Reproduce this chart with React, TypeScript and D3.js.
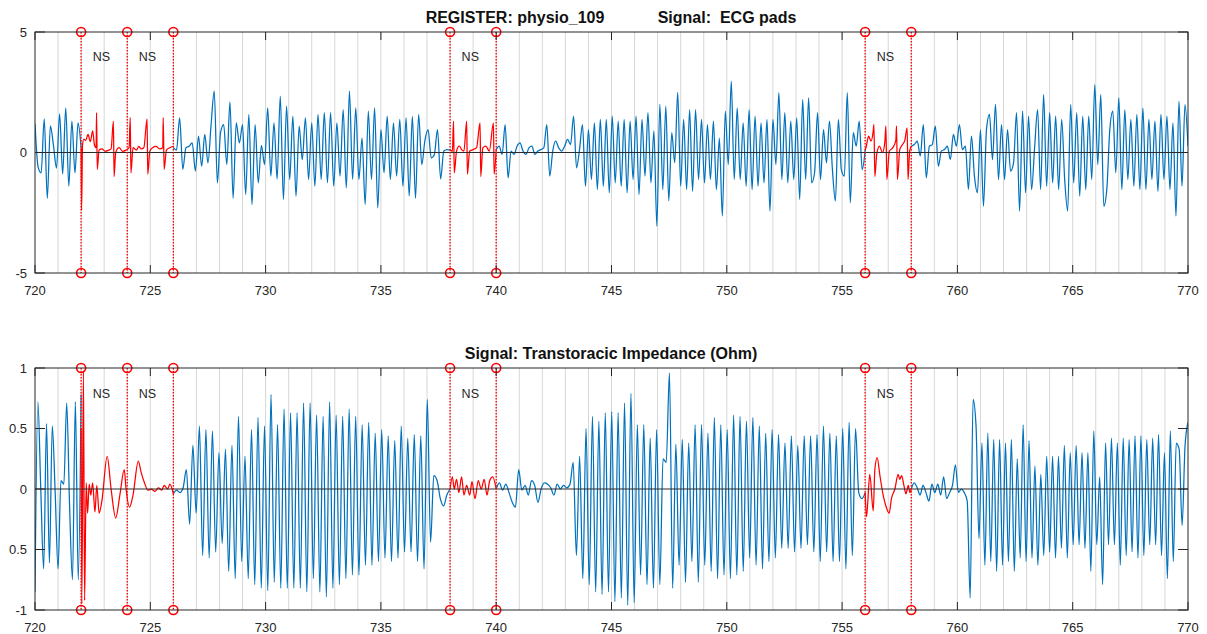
import * as d3 from 'd3'

// x axis
const xTicks = [720, 725, 730, 735, 740, 745, 750, 755, 760, 765, 770]
const nsMarks = [722, 724, 726, 738, 740, 756, 758]
const nsLabelStarts = [722, 724, 738, 756]

// y axes
const ecgTicks = [5, 0, -5]
const ecgTickLabels = ['5', '0', '-5']
const impTicks = [1, 0.5, 0, -0.5, -1]
const impTickLabels = ['1', '0.5', '0', '0.5', '-1']

// ECG pads (blue spans, evenly sampled between span bounds)
const ecgSpanA = [720, 722]
const ecgBlueA = [1.2, -0.6, -0.85, 1.4, -1.9, 1.1, 0.3, -0.65, 1.6, -0.9, 1.85, -1.4, 1.3, -0.85, 1.23, 0.2]
const ecgSpanB = [726, 738]
const ecgBlueB = [
  0.2, 0.1, 1.44, -0.7, 0.2, 0.26, 0.4, -0.77, 0.68, -0.57, 0.75, -0.43, 1.16, 2.55, -1.26, 0.82, 1.16, -0.5,
  2.1, -1.9, 1.23, 0.4, 1.16, -1.74, 1.58, -2.16, 1.16, -1.26, 0.3, -0.5, 1.85, -0.98, 1.23, -1.1, 2.34, -1.95,
  1.92, -1.12, 1.51, -1.81, 1.09, -0.3, 1.44, -1.12, 1.23, -1.4, 1.58, -1.12, 1.65, -1.26, 1.65, -1.4, 1.23,
  -0.98, 1.78, -1.47, 2.55, -1.12, 1.85, -1.12, 0.6, -2.16, 1.72, -1.12, 1.85, -2.3, 0.95, -0.84, 1.51, -1.12,
  1.23, -0.98, 1.37, -1.4, 1.44, -1.81, 1.5, -1.9, 1.58, -0.5, 0.5, 0.95, -0.22, -0.08, 0.95, -1.1, 0.06, 0.12, 0.1,
]
const ecgSpanC = [740, 756]
const ecgBlueC = [
  0.12, 0.26, -0.08, 1.16, -1.05, 0.06, -0.08, 0.26, 0.4, 0.06, -0.08, 0.19, 0.26, -0.08, 0.06, 0.12, 0.19, 1.16,
  -0.98, 0.06, 0.47, 0.19, 0.06, 0.26, 0.54, 0.33, 1.51, -0.64, 0.12, 1.16, -1.4, 0.95, -1.12, 1.23, -1.54, 1.37,
  -1.4, 1.37, -1.67, 1.51, -1.26, 1.3, -1.4, 1.37, -1.67, 1.3, -1.12, 1.51, -1.74, 1.37, -0.98, 1.65, -1.26, 0.9,
  -3.06, 2.0, -1.54, 1.92, -2.0, 0.82, -0.43, 2.5, -1.4, 1.37, -1.54, 1.78, -1.61, 1.78, -1.12, 1.37, -1.26, 1.16,
  -1.12, 1.3, -1.54, 0.6, -2.64, 1.72, -0.5, 2.96, -1.12, 1.85, -1.12, 1.23, -1.4, 1.78, -1.54, 1.51, -1.4, 1.23,
  -1.26, 1.37, -2.43, 1.37, -0.5, 2.48, -1.12, 1.65, -1.26, 1.3, -1.12, 1.44, -1.95, 2.2, -1.12, 2.27, -1.26,
  -0.84, 1.65, -1.12, 0.95, -0.43, 1.3, -0.71, -2.02, 1.37, -0.71, -0.98, 2.48, -2.09, 0.82, 0.26, 1.3, -0.71, 0.1,
]
const ecgSpanD = [758, 770]
const ecgBlueD = [
  0.26, 0.33, 0.47, -0.15, 1.16, -1.05, 0.26, 0.33, 1.09, -0.57, 0.06, 0.12, 0.26, -0.29, 0.75, 0.26, 1.16, 0.12,
  0.26, -1.53, 0.68, -0.98, -1.67, 0.95, -2.23, 0.95, 1.58, -0.3, 2.0, -1.12, 1.16, -1.12, 0.95, -0.77, -0.43,
  1.65, -2.43, 1.72, -1.67, 1.51, -1.54, 0.2, 1.78, -1.54, 2.41, -1.4, 1.65, -1.26, 1.51, -1.54, 1.37, -1.12,
  -2.43, 1.99, -1.26, 1.65, -1.81, 1.51, -1.54, 1.51, -1.12, 2.82, -0.5, 2.41, -2.23, -1.54, 0.95, 1.72, -0.84,
  2.27, -1.54, 1.78, -1.12, 1.37, -1.4, 1.58, -1.54, 1.85, -1.54, 1.37, -1.12, 1.3, -1.61, 1.58, -1.12, 1.51,
  -1.54, 1.23, -2.64, 2.13, -1.4, 1.99, 0.26,
]
// ECG pads, NS intervals (time, value)
const ecgNs1: [number, number][] = [
  [722.0, 0.2], [722.02, -2.4], [722.06, 0.3], [722.12, 0.55], [722.2, 0.5], [722.3, 0.75], [722.4, 0.45],
  [722.5, 0.9], [722.58, 0.3], [722.65, 0.2], [722.67, 1.65], [722.7, -0.7], [722.78, 0.1], [722.9, 0.15],
  [723.05, 0.05], [723.2, 0.1], [723.3, 0.15], [723.4, 1.3], [723.43, -1.0], [723.5, 0.0], [723.65, 0.2],
  [723.8, 0.05], [723.95, 0.1], [724.08, 0.2], [724.13, 1.45], [724.16, -0.85], [724.25, 0.2], [724.4, 0.1],
  [724.5, 0.25], [724.6, 0.15], [724.72, 0.2], [724.86, 1.4], [724.89, -0.9], [724.98, 0.05], [725.1, 0.2],
  [725.25, 0.25], [725.4, 0.15], [725.54, 0.2], [725.56, 1.45], [725.6, -0.7], [725.7, 0.1], [725.85, 0.2],
  [726.0, 0.25],
]
const ecgNs2: [number, number][] = [
  [738.0, 0.1], [738.1, 0.05], [738.15, 1.3], [738.18, -0.85], [738.28, 0.06], [738.4, 0.26], [738.5, 0.12],
  [738.6, 0.06], [738.72, 1.3], [738.75, -0.9], [738.85, 0.06], [739.0, 0.12], [739.15, 0.2], [739.3, 1.23],
  [739.33, -1.0], [739.42, 0.19], [739.55, 0.26], [739.7, 0.06], [739.88, 1.23], [739.91, -0.9], [740.0, 0.12],
]
const ecgNs3: [number, number][] = [
  [756.0, 0.1], [756.05, 0.26], [756.15, 0.68], [756.25, 0.47], [756.35, 0.9], [756.38, 1.16], [756.42, -1.0],
  [756.5, -0.08], [756.62, 0.26], [756.75, 0.0], [756.85, 0.4], [756.9, 1.1], [756.94, -1.12], [757.05, 0.06],
  [757.2, 0.2], [757.33, 0.5], [757.36, 1.1], [757.4, -1.12], [757.5, 0.12], [757.62, 0.33], [757.72, 0.5],
  [757.82, 1.02], [757.86, -1.12], [757.93, 0.06], [758.0, 0.26],
]

// Transtoracic impedance (Ohm)
const impSpanA = [720, 722]
const impBlueA = [-0.85, 0.72, 0.0, -0.66, 0.54, -0.61, 0.52, -0.03, -0.66, 0.07, 0.04, 0.71, -0.14, -0.75, 0.72, -0.75, 0.78]
const impSpanB = [726, 738]
const impBlueB = [
  -0.04, -0.01, -0.03, 0.01, 0.16, -0.29, 0.36, -0.2, 0.52, -0.55, 0.49, -0.57, 0.48, -0.52, 0.3, -0.45, 0.33,
  -0.68, 0.36, -0.74, 0.6, -0.6, 0.27, -0.74, 0.49, -0.79, 0.59, -0.82, 0.52, -0.84, 0.78, -0.77, 0.53, -0.82,
  0.66, -0.82, 0.63, -0.82, 0.63, -0.82, 0.71, -0.85, 0.71, -0.74, 0.61, -0.85, 0.6, -0.89, 0.72, -0.82, 0.61,
  -0.79, 0.6, -0.74, 0.66, -0.71, 0.6, -0.71, 0.53, -0.63, 0.55, -0.63, 0.46, -0.6, 0.49, -0.57, 0.44, -0.6, 0.4,
  -0.57, 0.52, -0.52, 0.42, -0.52, 0.45, -0.6, 0.44, -0.66, 0.74, -0.44, 0.11, 0.07, -0.08, -0.14, -0.05, 0.0,
]
const impSpanC = [740, 756]
const impBlueC = [
  0.0, 0.05, -0.01, 0.04, -0.03, -0.11, -0.15, 0.16, -0.01, 0.03, -0.05, 0.07, 0.03, -0.11, 0.0, 0.05, 0.04, 0.01,
  -0.05, 0.04, 0.0, 0.03, 0.01, 0.04, 0.22, -0.55, 0.27, -0.74, 0.5, -0.79, 0.6, -0.85, 0.56, -0.87, 0.63, -0.85,
  0.64, -0.93, 0.63, -0.9, 0.71, -0.96, 0.79, -0.94, 0.53, -0.71, 0.53, -0.79, 0.42, -0.82, 0.49, -0.79, 0.25,
  0.22, 0.96, -0.82, 0.37, -0.63, 0.41, -0.77, 0.38, -0.6, 0.53, -0.77, 0.53, -0.63, 0.46, -0.68, 0.59, -0.74,
  0.53, -0.71, 0.49, -0.74, 0.61, -0.71, 0.6, -0.68, 0.56, -0.57, 0.59, -0.63, 0.52, -0.66, 0.46, -0.6, 0.49,
  -0.57, 0.45, -0.49, 0.38, -0.49, 0.44, -0.52, 0.36, -0.49, 0.44, -0.46, 0.44, -0.52, 0.45, -0.6, 0.52, -0.52,
  0.46, -0.6, 0.44, -0.6, 0.5, -0.66, 0.55, -0.55, 0.5, -0.03, -0.08, -0.03,
]
const impSpanD = [758, 770]
const impBlueD = [
  0.0, 0.05, 0.01, -0.05, 0.03, -0.03, -0.1, 0.04, -0.03, 0.04, -0.05, 0.1, -0.08, -0.03, 0.03, 0.2, -0.03, 0.0,
  -0.03, -0.1, -0.9, 0.74, 0.52, -0.41, 0.38, -0.63, 0.46, -0.6, 0.41, -0.68, 0.41, -0.63, 0.38, -0.6, 0.41,
  -0.68, 0.25, -0.57, 0.53, -0.6, 0.4, -0.57, 0.19, -0.63, 0.12, -0.55, 0.27, -0.52, 0.27, -0.57, 0.27, -0.49,
  0.36, -0.57, 0.3, -0.46, 0.36, -0.46, 0.3, -0.49, 0.3, -0.68, 0.48, -0.46, 0.1, -0.79, 0.38, -0.46, 0.42,
  -0.46, 0.38, -0.63, 0.42, -0.55, 0.41, -0.52, 0.44, -0.57, 0.44, -0.55, 0.41, -0.46, 0.42, -0.46, 0.45, -0.55,
  0.3, -0.74, 0.48, -0.6, 0.38, 0.33, -0.3, 0.36, 0.55,
]
const impNs1: [number, number][] = [
  [722.0, 0.5], [722.03, -0.95], [722.1, 0.98], [722.15, -0.92], [722.22, 0.05], [722.28, -0.2], [722.35, 0.04],
  [722.42, -0.05], [722.5, 0.05], [722.6, -0.19], [722.68, 0.03], [722.78, -0.2], [722.9, -0.1], [723.13, 0.27],
  [723.3, 0.0], [723.5, -0.24], [723.68, -0.05], [723.87, 0.16], [723.95, 0.0], [724.1, -0.15], [724.25, -0.05],
  [724.48, 0.23], [724.6, 0.14], [724.75, 0.05], [724.9, -0.01], [725.05, 0.0], [725.2, -0.02], [725.35, 0.01],
  [725.5, -0.01], [725.6, 0.03], [725.75, 0.0], [725.85, 0.04], [726.0, -0.04],
]
const impNs2: [number, number][] = [
  [738.0, 0.0], [738.1, 0.1], [738.18, 0.0], [738.28, 0.08], [738.38, -0.03], [738.5, 0.1], [738.6, -0.05],
  [738.72, 0.03], [738.85, -0.05], [738.95, 0.06], [739.08, -0.08], [739.22, 0.07], [739.35, 0.0], [739.48, 0.08],
  [739.6, -0.05], [739.72, 0.07], [739.85, 0.1], [740.0, 0.0],
]
const impNs3: [number, number][] = [
  [756.0, -0.03], [756.06, -0.23], [756.2, 0.12], [756.35, -0.18], [756.42, 0.16], [756.52, 0.26], [756.64, 0.11],
  [756.78, -0.05], [756.9, -0.14], [757.04, -0.2], [757.14, -0.08], [757.29, 0.0], [757.43, 0.12], [757.5, 0.08],
  [757.58, 0.11], [757.68, 0.03], [757.77, -0.04], [757.87, 0.03], [757.94, -0.03], [758.0, 0.0],
]

const W = 1207
const H = 634
const BLUE = '#0072bd'
const RED = '#ff0000'
const AX = '#262626'
const FONT = '"Liberation Sans", Arial, Helvetica, sans-serif'

const x = d3.scaleLinear().domain([720, 770]).range([35, 1188])

type Pt = [number, number]
const spread = (span: number[], vals: number[]): Pt[] =>
  vals.map((v, i) => [span[0] + (i * (span[1] - span[0])) / (vals.length - 1), v])

function Panel({ id, y, ticks, tickLabels, blue, red, title, labelY }: {
  id: string
  y: d3.ScaleLinear<number, number>
  ticks: number[]
  tickLabels: string[]
  blue: Pt[][]
  red: Pt[][]
  title: string
  labelY: number
}) {
  const [yb, yt] = y.range()
  const line = d3.line<Pt>().x(d => x(d[0])).y(d => y(d[1])).curve(d3.curveMonotoneX)
  const grid = d3.range(721, 770)
  return (
    <g>
      <defs>
        <clipPath id={id}>
          <rect x={x(720)} y={yt} width={x(770) - x(720)} height={yb - yt} />
        </clipPath>
      </defs>
      {grid.map(t => (
        <line key={t} x1={x(t)} x2={x(t)} y1={yt} y2={yb} stroke="#d6d6d6" strokeWidth={1} />
      ))}
      <g clipPath={`url(#${id})`}>
        {blue.map((pts, i) => (
          <path key={'b' + i} d={line(pts) ?? ''} fill="none" stroke={BLUE} strokeWidth={1.25} strokeLinejoin="round" />
        ))}
        {red.map((pts, i) => (
          <path key={'r' + i} d={line(pts) ?? ''} fill="none" stroke={RED} strokeWidth={1.25} strokeLinejoin="round" />
        ))}
      </g>
      <line x1={x(720)} x2={x(770)} y1={y(0)} y2={y(0)} stroke="#2b2b2b" strokeWidth={1} />
      {nsMarks.map(t => (
        <g key={t}>
          <line x1={x(t)} x2={x(t)} y1={yt} y2={yb} stroke={RED} strokeWidth={1.3} strokeDasharray="1.5 1.5" />
          <circle cx={x(t)} cy={yt} r={4.5} fill="none" stroke={RED} strokeWidth={1.6} />
          <circle cx={x(t)} cy={yb} r={4.5} fill="none" stroke={RED} strokeWidth={1.6} />
        </g>
      ))}
      {nsLabelStarts.map(t => (
        <text key={t} x={x(t + 0.5)} y={labelY} fontSize={12.5} fill={AX} fontFamily={FONT}>NS</text>
      ))}
      <rect x={x(720)} y={yt} width={x(770) - x(720)} height={yb - yt} fill="none" stroke={AX} strokeWidth={1} />
      {ticks.map((t, i) => (
        <g key={t}>
          <line x1={x(720)} x2={x(720) + 10} y1={y(t)} y2={y(t)} stroke={AX} />
          <line x1={x(770)} x2={x(770) - 10} y1={y(t)} y2={y(t)} stroke={AX} />
          <text x={27} y={y(t) + 4.5} textAnchor="end" fontSize={13} fill={AX} fontFamily={FONT}>{tickLabels[i]}</text>
        </g>
      ))}
      {xTicks.map(t => (
        <g key={t}>
          <line x1={x(t)} x2={x(t)} y1={yb} y2={yb - 8} stroke={AX} />
          <line x1={x(t)} x2={x(t)} y1={yt} y2={yt + 8} stroke={AX} />
          <text x={x(t)} y={yb + 22} textAnchor="middle" fontSize={13} fill={AX} fontFamily={FONT}>{t}</text>
        </g>
      ))}
      <text x={611} y={yt - 9} textAnchor="middle" fontSize={16} fontWeight="bold" fill="#111" fontFamily={FONT}
        style={{ whiteSpace: 'pre' }}>{title}</text>
    </g>
  )
}

export default function App() {
  const yEcg = d3.scaleLinear().domain([-5, 5]).range([273, 32])
  const yImp = d3.scaleLinear().domain([-1, 1]).range([610, 368])
  return (
    <svg width={W} height={H} style={{ position: 'absolute', left: 0, top: 0, background: '#fff' }}>
      <Panel
        id="clipEcg"
        y={yEcg}
        ticks={ecgTicks}
        tickLabels={ecgTickLabels}
        blue={[spread(ecgSpanA, ecgBlueA), spread(ecgSpanB, ecgBlueB), spread(ecgSpanC, ecgBlueC), spread(ecgSpanD, ecgBlueD)]}
        red={[ecgNs1, ecgNs2, ecgNs3]}
        title={'REGISTER: physio_109            Signal:  ECG pads'}
        labelY={61}
      />
      <Panel
        id="clipImp"
        y={yImp}
        ticks={impTicks}
        tickLabels={impTickLabels}
        blue={[spread(impSpanA, impBlueA), spread(impSpanB, impBlueB), spread(impSpanC, impBlueC), spread(impSpanD, impBlueD)]}
        red={[impNs1, impNs2, impNs3]}
        title="Signal: Transtoracic Impedance (Ohm)"
        labelY={398}
      />
    </svg>
  )
}
